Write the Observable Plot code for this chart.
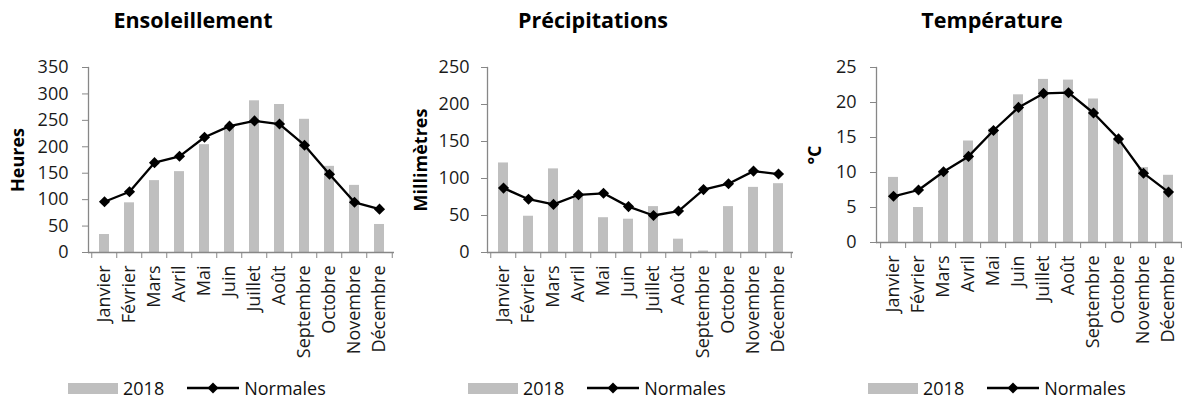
<!DOCTYPE html>
<html><head><meta charset="utf-8">
<script src="https://cdn.jsdelivr.net/npm/d3@7"></script>
<script src="https://cdn.jsdelivr.net/npm/@observablehq/plot@0.6"></script>
<style>
body{margin:0;width:1182px;height:400px;overflow:hidden;background:#fff;font-family:"Open Sans",sans-serif;position:relative}
.title{position:absolute;top:9px;font-weight:bold;font-size:21.5px;line-height:1;color:#000;transform:translateX(-50%);white-space:nowrap}
.panel{position:absolute;top:40px}
.legend{position:absolute;top:379px;height:18px;display:flex;align-items:center;font-size:18px;line-height:18px;color:#111;white-space:nowrap}
.sw{width:50px;height:11px;background:#bfbfbf;margin-right:5px}
.lg{margin-left:23px;margin-right:5px;display:block}
</style></head><body>
<script>
const months = ["Janvier","Février","Mars","Avril","Mai","Juin","Juillet","Août","Septembre","Octobre","Novembre","Décembre"];
const seriesNames = ["2018", "Normales"];
const titles = ["Ensoleillement", "Précipitations", "Température"];
const yLabels = ["Heures", "Millimètres", "°C"];

const sun2018 = [34, 94, 136, 153, 204, 237, 287, 280, 252, 163, 127, 53];
const sunNormales = [96, 115, 170, 182, 218, 239, 249, 243, 203, 148, 95, 82];
const sunTicks = [0, 50, 100, 150, 200, 250, 300, 350];

const rain2018 = [121, 49, 113, 77, 47, 45, 62, 18, 2, 62, 88, 93];
const rainNormales = [87, 72, 65, 78, 80, 62, 50, 56, 85, 93, 110, 106];
const rainTicks = [0, 50, 100, 150, 200, 250];

const temp2018 = [9.3, 5.0, 10.2, 14.5, 16.2, 21.1, 23.3, 23.2, 20.5, 14.6, 10.7, 9.6];
const tempNormales = [6.6, 7.5, 10.1, 12.3, 16.0, 19.3, 21.3, 21.4, 18.5, 14.8, 9.9, 7.2];
const tempTicks = [0, 5, 10, 15, 20, 25];

const AX = "#878787";

function panel(cfg) {
  const data = months.map((m, i) => ({month: m, v: cfg.values[i], n: cfg.normals[i]}));
  const step = (cfg.width - cfg.mL - cfg.mR) / 12;
  const chart = Plot.plot({
    width: cfg.width, height: cfg.height,
    marginLeft: cfg.mL, marginRight: cfg.mR, marginTop: 27, marginBottom: cfg.mB,
    style: {background: "transparent", fontFamily: "Open Sans", fontSize: "18px", color: "#1a1a1a", overflow: "visible", maxWidth: "none"},
    x: {type: "band", domain: months, paddingInner: 0.6, paddingOuter: 0.3, axis: null},
    y: {domain: [cfg.ticks[0], cfg.ticks[cfg.ticks.length - 1]], axis: null},
    marks: [
      Plot.barY(data, {x: "month", y: "v", fill: "#bfbfbf"}),
      Plot.ruleY([0], {stroke: AX, strokeWidth: 1.3}),
      Plot.frame({anchor: "left", stroke: AX, strokeWidth: 1.3}),
      Plot.axisY(cfg.ticks, {tickSize: 6, tickPadding: cfg.tickPad, stroke: AX, label: null, fontSize: 18}),
      Plot.axisX({tickSize: 6, text: null, dx: -step / 2, stroke: AX, label: null}),
      Plot.axisX([months[11]], {tickSize: 6, text: null, dx: step / 2, stroke: AX, label: null}),
      Plot.axisX({tickSize: 0, tickPadding: 13, tickRotate: -90, label: null, fontSize: 18}),
      Plot.line(data, {x: "month", y: "n", stroke: "black", strokeWidth: 2.3}),
      Plot.dot(data, {x: "month", y: "n", symbol: "diamond2", r: 5, fill: "black", stroke: null}),
      Plot.text([cfg.yLabel], {frameAnchor: "left", textAnchor: "middle", dx: cfg.yLabelDx, rotate: -90, fontWeight: "bold", fontSize: 18, fill: "#000"})
    ]
  });
  const div = document.createElement("div");
  div.className = "panel";
  div.style.left = cfg.left + "px";
  div.appendChild(chart);
  document.body.appendChild(div);

  const t = document.createElement("div");
  t.className = "title";
  t.style.left = cfg.titleX + "px";
  t.textContent = cfg.title;
  document.body.appendChild(t);

  const lg = document.createElement("div");
  lg.className = "legend";
  lg.style.left = cfg.legendX + "px";
  lg.innerHTML = `<div class="sw"></div><span>${seriesNames[0]}</span>
    <svg class="lg" width="52" height="14" viewBox="0 0 52 14"><line x1="0" y1="7" x2="52" y2="7" stroke="black" stroke-width="2.3"/><path d="M26,1.5L31.5,7L26,12.5L20.5,7Z" fill="black"/></svg><span>${seriesNames[1]}</span>`;
  document.body.appendChild(lg);
}

panel({left: 0, width: 394, mL: 88, mR: 0, height: 322, mB: 110, values: sun2018, normals: sunNormales, ticks: sunTicks, tickPad: 14, yLabel: yLabels[0], yLabelDx: -70, title: titles[0], titleX: 193, legendX: 68});
panel({left: 394, width: 400, mL: 93, mR: 1, height: 322, mB: 110, values: rain2018, normals: rainNormales, ticks: rainTicks, tickPad: 12, yLabel: yLabels[1], yLabelDx: -66, title: titles[1], titleX: 593, legendX: 468});
panel({left: 788, width: 400, mL: 88, mR: 3, height: 322, mB: 120, values: temp2018, normals: tempNormales, ticks: tempTicks, tickPad: 14, yLabel: yLabels[2], yLabelDx: -61, title: titles[2], titleX: 992, legendX: 868});
</script>
</body></html>
